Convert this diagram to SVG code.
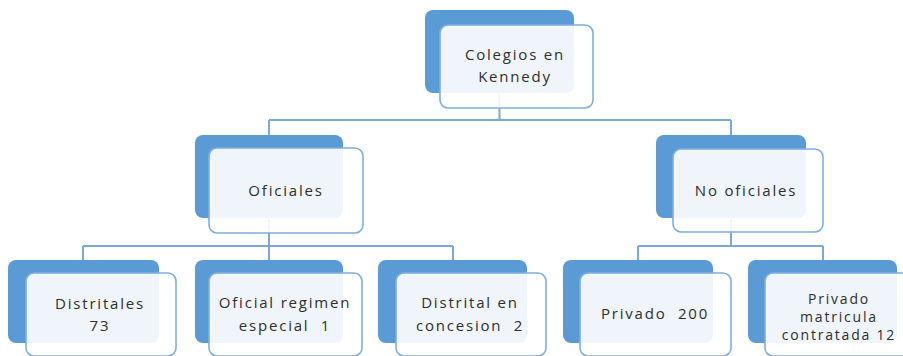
<svg xmlns="http://www.w3.org/2000/svg" width="903" height="356" viewBox="0 0 903 356">
<style>
.bg{fill:#5B9BD5}
.fg{fill:#FFFFFF;fill-opacity:0.9;stroke:#7EAEDD;stroke-width:1.6}
.t{font-family:"Open Sans","Liberation Sans",sans-serif;font-size:15px;fill:#2E2E2E;text-anchor:middle;letter-spacing:1.8px;white-space:pre}
.s{font-size:14px}
.c{stroke:#7BA7D9;stroke-width:2;fill:none}
</style>
<rect width="903" height="356" fill="#FFFFFF"/>
<g id="connectors">
<path class="c" d="M499.5,93V120M269,120H731M269,120V135M731,120V135"/>
<path class="c" d="M269,218V246M83,246H453M83,246V260M269,246V260M453,246V260"/>
<path class="c" d="M731,218V246M638,246H823M638,246V260M823,246V260"/>
</g>
<g id="n-colegios">
<rect class="bg" x="425" y="10" width="149" height="83" rx="8"/>
<rect class="fg" x="440" y="25" width="153" height="83" rx="8"/>
<text class="t" x="515" y="60">Colegios en</text>
<text class="t" x="515" y="82">Kennedy</text>
</g>
<g id="n-oficiales">
<rect class="bg" x="195" y="135" width="148" height="83" rx="8"/>
<rect class="fg" x="209" y="148" width="154" height="85" rx="8"/>
<text class="t" x="286" y="196">Oficiales</text>
</g>
<g id="n-nooficiales">
<rect class="bg" x="656" y="135" width="150" height="83" rx="8"/>
<rect class="fg" x="673" y="149" width="150" height="83" rx="8"/>
<text class="t" x="746" y="196">No oficiales</text>
</g>
<g id="n-distritales">
<rect class="bg" x="8" y="260" width="151" height="83" rx="8"/>
<rect class="fg" x="26" y="273" width="150" height="83" rx="8"/>
<text class="t" x="100" y="309">Distritales</text>
<text class="t" x="100" y="331">73</text>
</g>
<g id="n-regimen">
<rect class="bg" x="195" y="260" width="148" height="83" rx="8"/>
<rect class="fg" x="209" y="273" width="153" height="83" rx="8"/>
<text class="t" x="285" y="308">Oficial regimen</text>
<text class="t" x="285" y="331" xml:space="preserve">especial  1</text>
</g>
<g id="n-concesion">
<rect class="bg" x="378" y="260" width="149" height="83" rx="8"/>
<rect class="fg" x="396" y="273" width="150" height="83" rx="8"/>
<text class="t" x="470" y="308">Distrital en</text>
<text class="t" x="470" y="331" xml:space="preserve">concesion  2</text>
</g>
<g id="n-privado">
<rect class="bg" x="563" y="260" width="150" height="83" rx="8"/>
<rect class="fg" x="580" y="273" width="151" height="83" rx="8"/>
<text class="t" x="655" y="319" xml:space="preserve">Privado  200</text>
</g>
<g id="n-matricula">
<rect class="bg" x="748" y="260" width="149" height="83" rx="8"/>
<rect class="fg" x="765" y="273" width="150" height="83" rx="8"/>
<text class="t s" x="839" y="304">Privado</text>
<text class="t s" x="839" y="322">matricula</text>
<text class="t s" x="839" y="340">contratada 12</text>
</g>
</svg>
